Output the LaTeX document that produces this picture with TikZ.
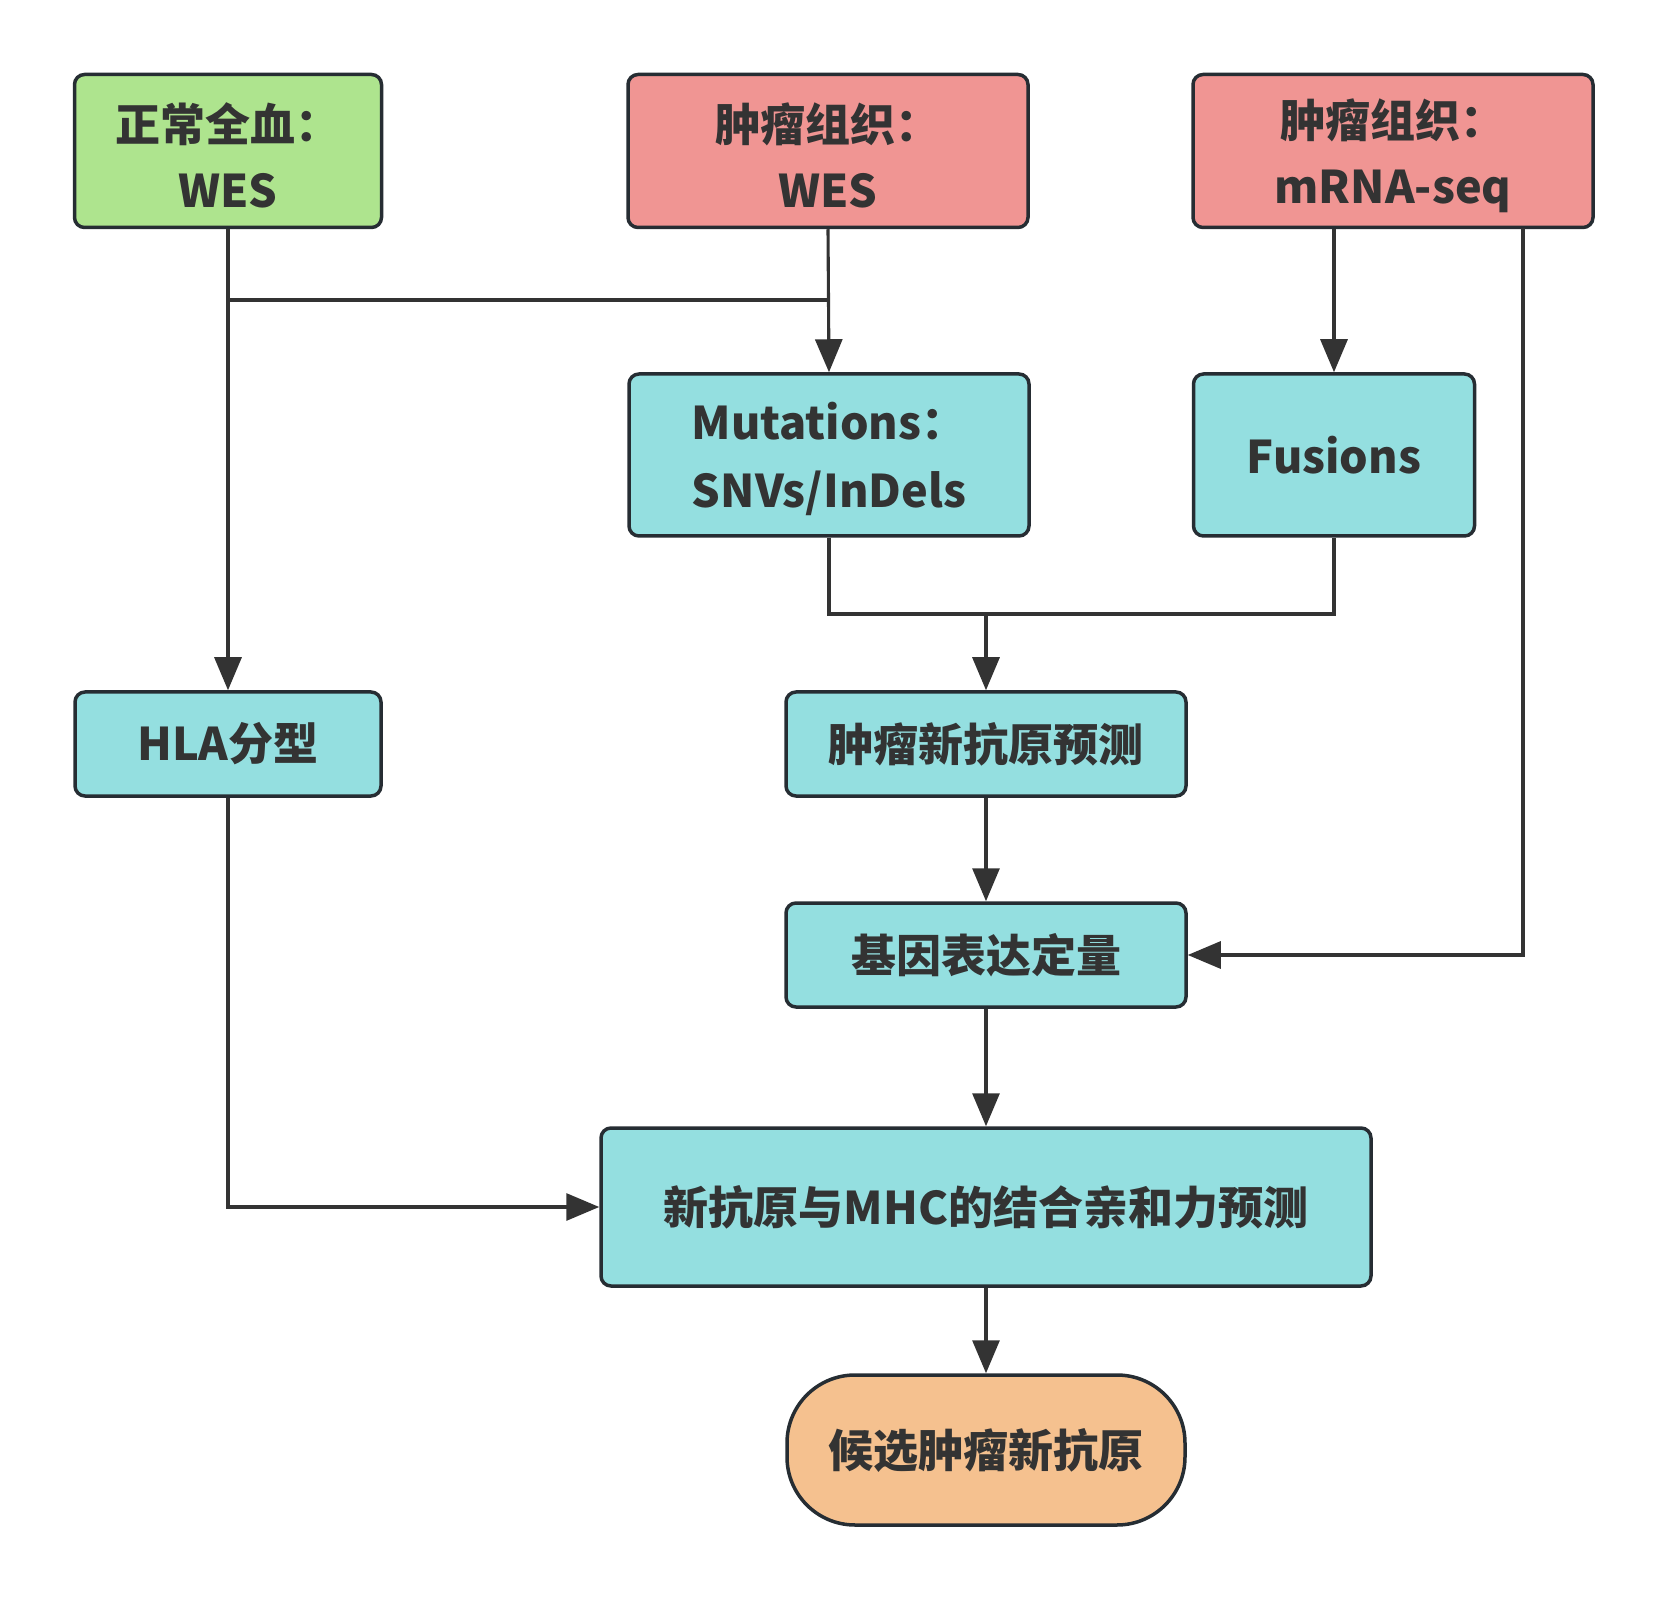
\documentclass[tikz,border=0pt]{standalone}
\usepackage{fontspec}
\setmainfont{Noto Sans CJK SC}
\usetikzlibrary{arrows.meta}
\definecolor{bordc}{HTML}{262D33}
\definecolor{txtc}{HTML}{333333}
\definecolor{linec}{HTML}{333333}
\definecolor{fgreen}{HTML}{AEE48E}
\definecolor{fred}{HTML}{F09593}
\definecolor{fcyan}{HTML}{94DFE0}
\definecolor{forange}{HTML}{F5C18F}
\begin{document}
\begin{tikzpicture}[x=0.5pt,y=-0.5pt,
  box/.style={draw=bordc, line width=1.75pt, rounded corners=5pt, text=txtc,
    font=\fontsize{22.5}{32.5}\selectfont\bfseries, align=center, inner sep=0pt},
  lbl/.style={text=txtc, font=\fontsize{22.5}{33}\selectfont\bfseries, align=center, inner sep=0pt},
  conn/.style={draw=linec, line width=1.55pt},
  arr/.style={conn, -{Triangle[width=13.5pt,length=16.5pt]}}]
\useasboundingbox (0,0) rectangle (1667,1599);

\node[box, fill=fgreen, minimum width=153.5pt, minimum height=76.5pt] (A) at (228,151) {};
\node[lbl] (At) at ([yshift=-2.4pt]A.center) {正常全血：\\WES};
\node[box, fill=fred, minimum width=200pt, minimum height=76.5pt] (B) at (828,151) {};
\node[lbl] (Bt) at ([yshift=-2.4pt]B.center) {肿瘤组织：\\WES};
\node[box, fill=fred, minimum width=200pt, minimum height=76.5pt] (C) at (1393,151) {};
\node[lbl] (Ct) at ([yshift=-2.4pt]C.center) {肿瘤组织：\\mRNA-seq};
\node[box, fill=fcyan, minimum width=200pt, minimum height=81pt] (Mut) at (829,455) {};
\node[lbl, font=\fontsize{22.5}{34}\selectfont\bfseries] (Mutt) at ([yshift=-2.1pt]Mut.center) {Mutations：\\SNVs/InDels};
\node[box, fill=fcyan, minimum width=140.5pt, minimum height=81pt] (Fus) at (1334,455) {Fusions};
\node[box, fill=fcyan, minimum width=153pt, minimum height=52pt] (HLA) at (228,744) {HLA分型};
\node[box, fill=fcyan, minimum width=200pt, minimum height=52pt] (Pred) at (986,744) {肿瘤新抗原预测};
\node[box, fill=fcyan, minimum width=200pt, minimum height=52pt] (Gene) at (986,955) {基因表达定量};
\node[box, fill=fcyan, minimum width=385pt, minimum height=79pt] (MHC) at (986,1207) {新抗原与MHC的结合亲和力预测};
\node[box, fill=forange, rounded corners=34pt, minimum width=199pt, minimum height=75pt] (Fin) at (986,1450) {候选肿瘤新抗原};

\coordinate (jA) at (228,300);
\coordinate (ym) at (0,614);
\coordinate (cr) at (1523,228);

\draw[arr] (A.south) -- (HLA.north);
\draw[conn] (jA) -- (B.south |- jA);
\draw[arr] (B.south) -- (Mut.north);
\draw[arr] (Fus.north |- C.south) -- (Fus.north);
\draw[conn] (Mut.south) -- (Mut.south |- ym) -- (Fus.south |- ym) -- (Fus.south);
\draw[arr] (Pred.north |- ym) -- (Pred.north);
\draw[arr] (Pred.south) -- (Gene.north);
\draw[arr] (cr) -- (cr |- Gene.east) -- (Gene.east);
\draw[arr] (Gene.south) -- (MHC.north);
\draw[arr] (HLA.south) -- (HLA.south |- MHC.west) -- (MHC.west);
\draw[arr] (MHC.south) -- (Fin.north);
\end{tikzpicture}
\end{document}
